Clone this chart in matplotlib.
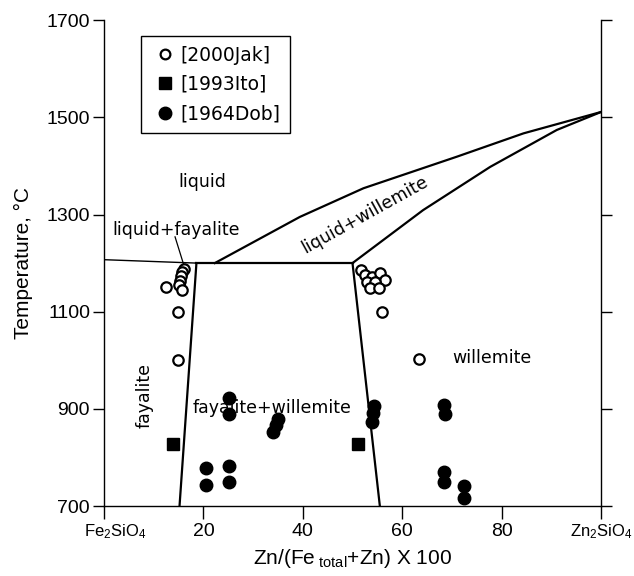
import matplotlib.pyplot as plt
from matplotlib.lines import Line2D
from matplotlib.transforms import ScaledTranslation

plt.rcParams['font.family'] = 'Liberation Sans'
plt.rcParams['mathtext.fontset'] = 'custom'
plt.rcParams['mathtext.rm'] = 'Liberation Sans'
plt.rcParams['mathtext.it'] = 'Liberation Sans'

# phase boundaries (x = Zn/(Fe+Zn)*100, T in C)
liq_fay_x = [0, 18.6]
liq_fay_t = [1207, 1200]
eut_x = [18.6, 50.0]
eut_t = [1200, 1200]
fay_solvus_x = [18.6, 15.2]
fay_solvus_t = [1200, 700]
wil_solvus_x = [50.0, 55.5]
wil_solvus_t = [1200, 700]
liquidus_x = [22.3, 39.4, 52.2, 71.0, 84.4, 100]
liquidus_t = [1200, 1295, 1354, 1419, 1467, 1511]
solidus_x = [50.0, 64.2, 77.7, 91.1, 100]
solidus_t = [1200, 1309, 1398, 1474, 1511]

# [2000Jak] open circles
jak_x = [16.0, 15.7, 15.4, 15.2, 15.0, 15.6, 12.5, 14.8, 14.8,
         51.8, 52.5, 53.9, 55.5, 56.5, 52.9, 54.5, 53.5, 55.4, 56.0, 63.4]
jak_t = [1188, 1182, 1173, 1163, 1155, 1145, 1150, 1100, 1000,
         1186, 1176, 1172, 1179, 1165, 1162, 1162, 1148, 1148, 1100, 1002]
# [1993Ito] squares
ito_x = [13.8, 51.2]
ito_t = [828, 828]
# [1964Dob] filled circles
dob_x = [25.2, 25.2, 35.1, 34.6, 34.1, 20.5, 20.5, 25.2, 25.2,
         54.4, 54.1, 53.9, 68.5, 68.6, 68.5, 68.5, 72.4, 72.4]
dob_t = [922, 889, 880, 867, 853, 778, 743, 782, 750,
         906, 891, 872, 908, 889, 771, 750, 741, 716]

fig = plt.figure(figsize=(6.34, 5.76), dpi=100)
ax = fig.add_axes([0.164, 0.1215, 0.784, 0.8435])

ax.plot(liq_fay_x, liq_fay_t, color='black', lw=1.0)
ax.plot(eut_x, eut_t, color='black', lw=1.6)
ax.plot(fay_solvus_x, fay_solvus_t, color='black', lw=1.6)
ax.plot(wil_solvus_x, wil_solvus_t, color='black', lw=1.6)
ax.plot(liquidus_x, liquidus_t, color='black', lw=1.6)
ax.plot(solidus_x, solidus_t, color='black', lw=1.6)

ax.plot(jak_x, jak_t, 'o', ms=7.5, mfc='white', mec='black', mew=1.6, ls='none')
ax.plot(ito_x, ito_t, 's', ms=8, color='black', ls='none')
ax.plot(dob_x, dob_t, 'o', ms=9, color='black', ls='none')

# leader for liquid+fayalite label
ax.plot([14.3, 16.0], [1254, 1198], color='black', lw=0.9)

lab = dict(fontsize=12.5, family='DejaVu Sans', ha='center', va='center')
ax.text(19.7, 1367, 'liquid', **lab)
ax.text(14.5, 1268, 'liquid+fayalite', **lab)
ax.text(52.5, 1300, 'liquid+willemite', rotation=29, **lab)
ax.text(8.2, 928, 'fayalite', rotation=90, **lab)
ax.text(33.8, 902, 'fayalite+willemite', **lab)
ax.text(78.0, 1004, 'willemite', **lab)

ax.set_xlim(0, 100)
ax.set_ylim(700, 1700)
ax.set_xticks([0, 20, 40, 60, 80, 100])
ax.set_xticklabels([r'Fe$_2$SiO$_4$', '20', '40', '60', '80', r'Zn$_2$SiO$_4$'])
ax.set_yticks([700, 900, 1100, 1300, 1500, 1700])
ax.tick_params(axis='x', direction='out', length=9, width=1, labelsize=14, pad=3)
ax.tick_params(axis='y', direction='out', length=8, width=1, labelsize=14, pad=2,
               right=True)
xl = ax.get_xticklabels()
xl[0].set_fontsize(12)
xl[5].set_fontsize(12)
xl[0].set_transform(xl[0].get_transform() + ScaledTranslation(0.11, 0, fig.dpi_scale_trans))
ax.spines['top'].set_visible(False)
for s in ('left', 'bottom', 'right'):
    ax.spines[s].set_linewidth(1)

ax.set_xlabel(r'Zn/(Fe$_{\ \mathrm{total}}$+Zn) X 100', fontsize=15, labelpad=4)
ax.set_ylabel('Temperature, °C', fontsize=15, labelpad=10)

handles = [
    Line2D([], [], marker='o', ls='none', ms=7, mfc='white', mec='black', mew=1.6),
    Line2D([], [], marker='s', ls='none', ms=8, color='black'),
    Line2D([], [], marker='o', ls='none', ms=9, color='black'),
]
leg = ax.legend(handles, ['[2000Jak]', '[1993Ito]', '[1964Dob]'],
                loc='upper left', bbox_to_anchor=(0.075, 0.967), borderaxespad=0,
                prop={'family': 'DejaVu Sans', 'size': 13.5},
                fancybox=False, framealpha=1, edgecolor='black',
                handletextpad=0.1, handlelength=1.5, borderpad=0.5,
                labelspacing=0.55)
leg.get_frame().set_linewidth(1)

fig.savefig('out.png', dpi=100)
